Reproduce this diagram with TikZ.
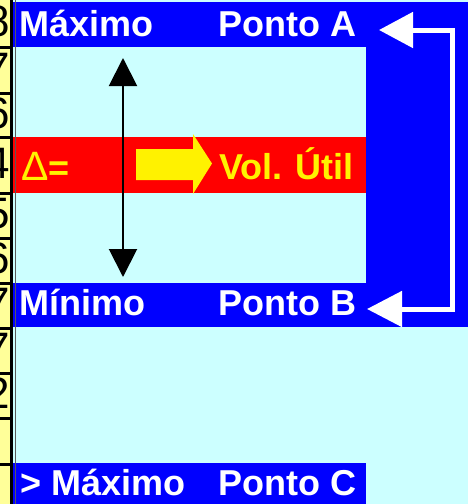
\documentclass[tikz,border=0pt]{standalone}
\usepackage{fontspec}
\setmainfont{Liberation Sans}
\usetikzlibrary{arrows.meta}
\definecolor{sheetcyan}{HTML}{CCFFFF}
\definecolor{bandblue}{HTML}{0000FF}
\definecolor{cellyellow}{HTML}{FFFF99}

\begin{document}
\begin{tikzpicture}[x=1pt, y=-1pt,
    bandtext/.style={anchor=base west, inner sep=0pt, text=white, font=\fontsize{36}{42}\selectfont\bfseries},
    flagtext/.style={bandtext, text=yellow},
    rowno/.style={anchor=east, inner sep=0pt, font=\fontsize{44}{50}\selectfont},
    loopback/.style={white, line width=5pt, line join=miter,
      {Triangle[length=34pt, width=35pt]}-{Triangle[length=35pt, width=35pt]}},
    volspan/.style={black, line width=2pt,
      {Triangle[length=28pt, width=28pt]}-{Triangle[length=28pt, width=28pt]}}]
    \useasboundingbox (0,0) rectangle (468,504);
    \fill[sheetcyan] (0,0) rectangle (468,504);
    \fill[bandblue] (13,1.5) rectangle (468,47);
    \fill[bandblue] (366,1.5) rectangle (468,327);
    \fill[bandblue] (13,283) rectangle (468,327);
    \fill[bandblue] (13,463) rectangle (366,504);
    \fill[red] (13,137) rectangle (366,193);
    % row numbers on the left
    \fill[cellyellow] (0,0) rectangle (10,504);
    \begin{scope}
      \clip (0,0) rectangle (9.5,504);
      \foreach \top/\bot/\d [count=\i] in {0/47/8, 47/93/7, 93/137/6, 137/193/4, 193/238/5,
          238/283/6, 283/328/7, 328/373/7, 373/418/2}
        \node[rowno] (row\i) at (10.5,{(\top+\bot)/2-2}) {\d};
    \end{scope}
    \foreach \y in {47,93,137,193,238,283,328,373,418,464}
      \draw[line width=3pt] (0,\y) -- (10,\y);
    \draw[line width=3pt] (11,0) -- (11,504);
    \draw[black!65, line width=1.2pt] (15.5,0) -- (15.5,504);
    \node[bandtext] (maxA) at (19.5,36) {Máximo};
    \node[bandtext] (ptA) at (218.5,36) {Ponto A};
    \node[bandtext] (minB) at (19.5,315) {Mínimo};
    \node[bandtext] (ptB) at (218.5,315) {Ponto B};
    \node[bandtext] (maxC) at (20.5,495) {> Máximo};
    \node[bandtext] (ptC) at (218.5,495) {Ponto C};
    \node[flagtext, font=\fontsize{41}{42}\selectfont] (delta) at (21,180) {Δ\fontsize{36}{42}\selectfont\bfseries=};
    \node[flagtext] (util) at (219,179.5) {Vol. Útil};
    \fill[yellow] (136,149) -- (193,149) -- (193,134) -- (212,163.5) -- (193,194) -- (193,180) -- (136,180) -- cycle;
    \coordinate (volTop) at (123,58);
    \coordinate (volBot) at (123,277);
    \draw[volspan] (volTop) -- (volBot);
    \coordinate (tipA) at (379,30);
    \coordinate (tipB) at (367,309);
    \coordinate (rail) at (452.5,0);
    \draw[loopback] (tipA) -- (tipA -| rail) -- (tipB -| rail) -- (tipB);
  \end{tikzpicture}
\end{document}
